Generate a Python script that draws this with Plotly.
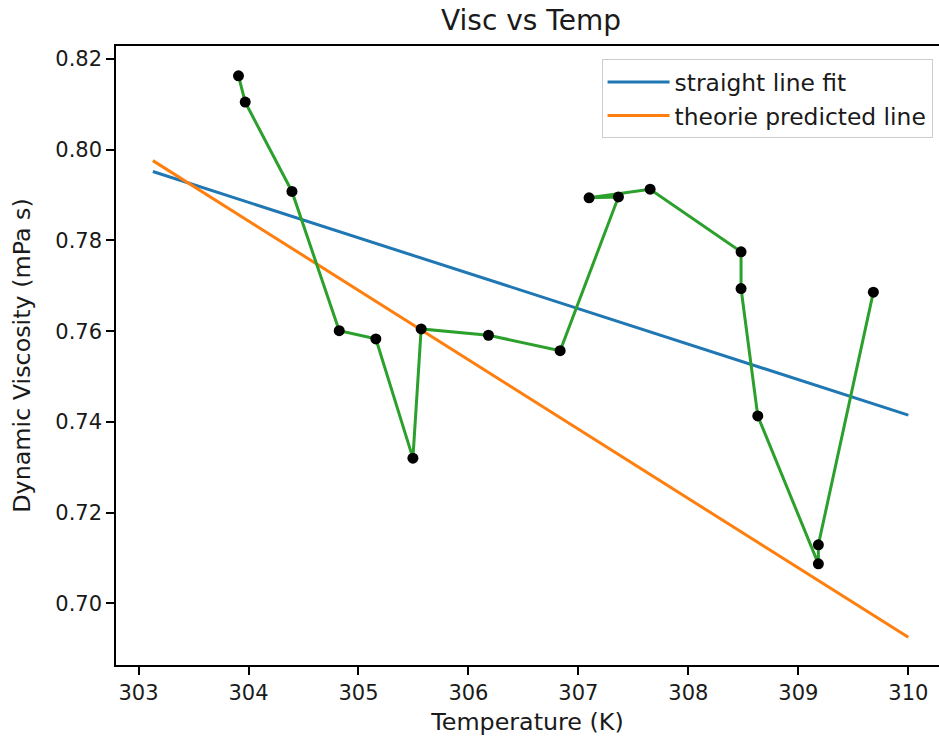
import plotly.graph_objects as go

# Measured data (temperature in K, dynamic viscosity in mPa s), in plotted order
temp = [303.909, 303.970, 304.395, 304.825, 305.158, 305.495, 305.570, 306.182,
        306.834, 307.364, 307.097, 307.652, 308.479, 308.479, 308.631, 309.182,
        309.182, 309.682]
visc = [0.8163, 0.8105, 0.7908, 0.7601, 0.7583, 0.7320, 0.7605, 0.7591,
        0.7557, 0.7896, 0.7894, 0.7913, 0.7775, 0.7694, 0.7413, 0.7087,
        0.7129, 0.7686]

# Straight line fit
fit_x = [303.13, 310.0]
fit_y = [0.7952, 0.7415]

# Theory predicted line
theory_x = [303.13, 310.0]
theory_y = [0.7976, 0.6925]

x_ticks = [303, 304, 305, 306, 307, 308, 309, 310]
y_ticks = [0.70, 0.72, 0.74, 0.76, 0.78, 0.80, 0.82]

FONT = "DejaVu Sans"
TXT = "#1a1a1a"

fig = go.Figure()
fig.add_trace(go.Scatter(x=fit_x, y=fit_y, mode="lines", name="straight line fit",
                         line=dict(color="#1f77b4", width=3)))
fig.add_trace(go.Scatter(x=theory_x, y=theory_y, mode="lines", name="theorie predicted line",
                         line=dict(color="#ff7f0e", width=3)))
fig.add_trace(go.Scatter(x=temp, y=visc, mode="lines", showlegend=False,
                         line=dict(color="#2ca02c", width=3)))
fig.add_trace(go.Scatter(x=temp, y=visc, mode="markers", showlegend=False,
                         marker=dict(color="black", size=11)))

fig.update_layout(
    width=939, height=736,
    margin=dict(l=116, r=0, t=46, b=71),
    paper_bgcolor="white", plot_bgcolor="white",
    font=dict(family=FONT, size=21, color=TXT),
    title=dict(text="Visc vs Temp", x=531/939, xanchor="center", xref="container",
               y=1 - 20/736, yanchor="middle", yref="container",
               font=dict(family=FONT, size=28, color=TXT)),
    legend=dict(x=0.590, y=0.9785, xanchor="left", yanchor="top",
                bgcolor="rgba(255,255,255,0.8)", bordercolor="#cccccc", borderwidth=1,
                itemwidth=62,
                font=dict(family=FONT, size=23.4, color=TXT)),
    showlegend=True,
)
fig.update_xaxes(range=[302.795, 310.279], tickvals=x_ticks,
                 ticktext=[str(v) for v in x_ticks],
                 showgrid=False, zeroline=False, showline=True, linecolor="black",
                 linewidth=1.5, mirror=True, ticks="outside", ticklen=8, tickwidth=1.5,
                 tickcolor="black",
                 title=dict(text="Temperature (K)", standoff=10,
                            font=dict(family=FONT, size=23.8, color=TXT)))
fig.update_yaxes(range=[0.6864, 0.82287], tickvals=y_ticks,
                 ticktext=[f"{v:.2f}" for v in y_ticks],
                 showgrid=False, zeroline=False, showline=True, linecolor="black",
                 linewidth=1.5, mirror=False, ticks="outside", ticklen=8, tickwidth=1.5,
                 tickcolor="black",
                 title=dict(text="Dynamic Viscosity (mPa s)", standoff=18,
                            font=dict(family=FONT, size=23.8, color=TXT)))

fig.write_html("out.html")
